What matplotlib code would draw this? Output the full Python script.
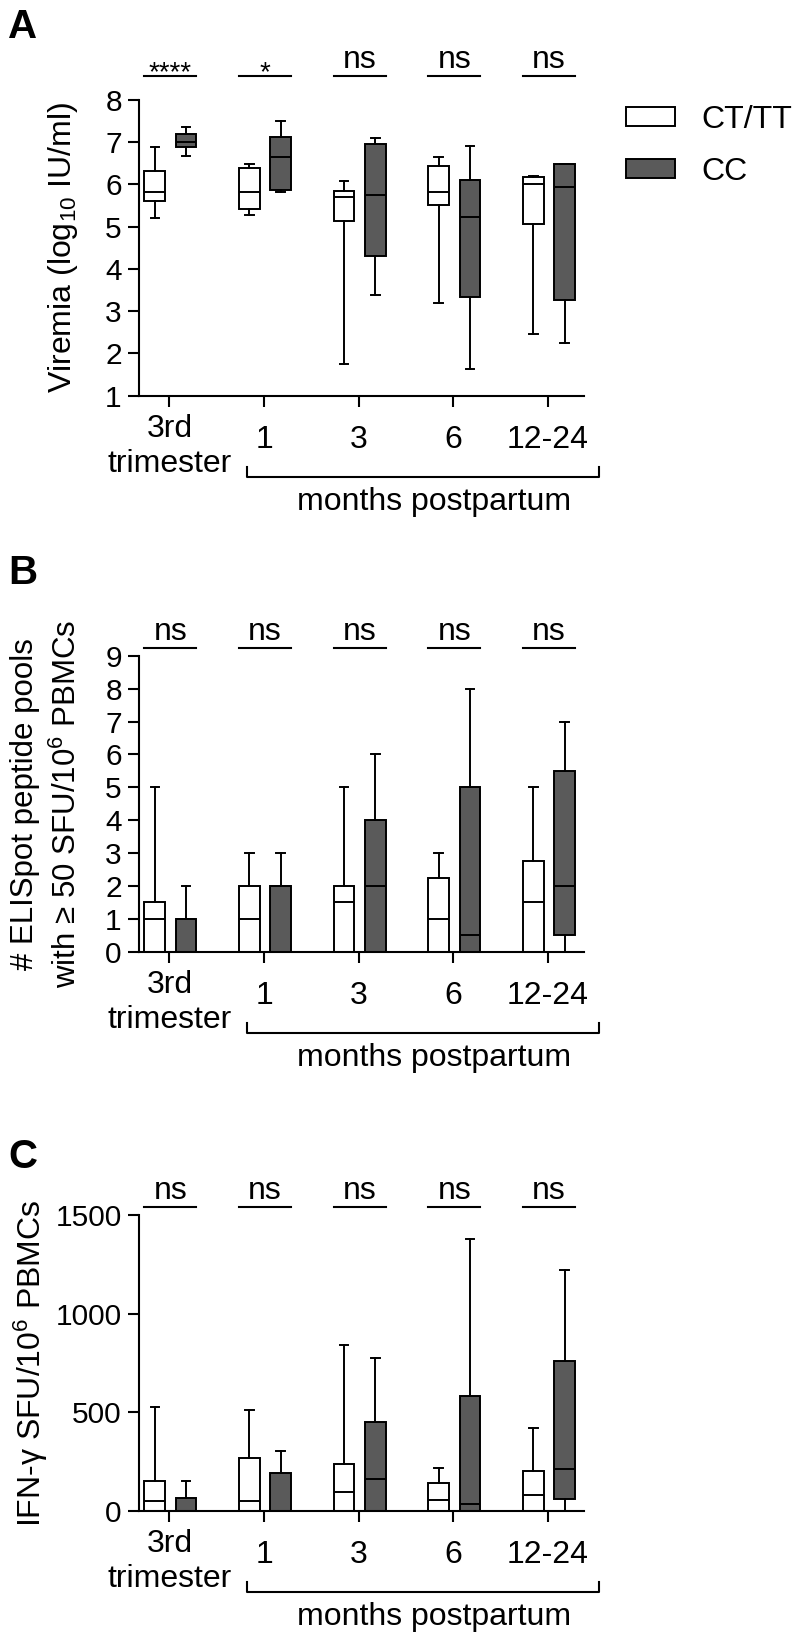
import matplotlib
matplotlib.use("AGG")
import matplotlib.pyplot as plt
import matplotlib.transforms as mtransforms
from matplotlib.patches import Patch

plt.rcParams['font.family'] = ['Liberation Sans', 'DejaVu Sans']
plt.rcParams['mathtext.default'] = 'regular'

# categories and groups
timepoints = ['3rd\ntrimester', '1', '3', '6', '12-24']
genotypes = ['CT/TT', 'CC']
colors = ['white', '#5a5a5a']

# box stats per timepoint: [whisker low, q1, median, q3, whisker high]
viremia_ct = [[5.21, 5.60, 5.83, 6.32, 6.88], [5.27, 5.43, 5.83, 6.38, 6.48],
              [1.76, 5.13, 5.70, 5.84, 6.08], [3.20, 5.52, 5.83, 6.44, 6.64],
              [2.45, 5.07, 6.01, 6.17, 6.21]]
viremia_cc = [[6.68, 6.88, 7.00, 7.19, 7.37], [5.82, 5.87, 6.64, 7.13, 7.51],
              [3.38, 4.31, 5.76, 6.96, 7.10], [1.62, 3.34, 5.24, 6.10, 6.90],
              [2.24, 3.26, 5.93, 6.48, 6.48]]
elispot_ct = [[0, 0, 1, 1.5, 5], [0, 0, 1, 2, 3], [0, 0, 1.5, 2, 5],
              [0, 0, 1, 2.25, 3], [0, 0, 1.5, 2.75, 5]]
elispot_cc = [[0, 0, 1, 1, 2], [0, 0, 2, 2, 3], [0, 0, 2, 4, 6],
              [0, 0, 0.5, 5, 8], [0, 0.5, 2, 5.5, 7]]
ifn_ct = [[0, 0, 51, 152, 525], [0, 0, 51, 269, 510], [0, 0, 97, 240, 841],
          [0, 0, 59, 143, 220], [0, 0, 82, 203, 421]]
ifn_cc = [[0, 0, 0, 68, 155], [0, 0, 0, 194, 307], [0, 0, 161, 452, 777],
          [0, 0, 37, 582, 1377], [0, 60, 212, 759, 1222]]

sig_a = ['****', '*', 'ns', 'ns', 'ns']
sig_b = ['ns', 'ns', 'ns', 'ns', 'ns']
sig_c = ['ns', 'ns', 'ns', 'ns', 'ns']

fig = plt.figure(figsize=(7.96, 16.37), dpi=100)
FS = 23       # labels / text
TFS = 21.5    # tick labels
LW = 1.4


def off(ax, dy):
    # data x, axes y, shifted by dy pixels (up positive)
    return (mtransforms.blended_transform_factory(ax.transData, ax.transAxes)
            + mtransforms.ScaledTranslation(0, dy / 100, fig.dpi_scale_trans))


def panel(rect, ct, cc, ylim, yticks, ylabel, ylab_x, ylab_fs, letter, sig, sig_dy):
    ax = fig.add_axes(rect)
    for stats_list, dx, col in [(ct, -0.155, colors[0]), (cc, 0.175, colors[1])]:
        stats = [dict(whislo=s[0], q1=s[1], med=s[2], q3=s[3], whishi=s[4])
                 for s in stats_list]
        ax.bxp(stats, positions=[i + dx for i in range(len(stats))], widths=0.22,
               patch_artist=True, showfliers=False, capwidths=0.09,
               boxprops=dict(facecolor=col, edgecolor='black', linewidth=LW),
               medianprops=dict(color='black', linewidth=LW),
               whiskerprops=dict(color='black', linewidth=LW),
               capprops=dict(color='black', linewidth=LW))
    ax.set_xlim(-0.327, 4.385)
    ax.set_ylim(*ylim)
    ax.set_yticks(yticks)
    ax.set_xticks(range(len(timepoints)))
    ax.set_xticklabels([''] * len(timepoints))
    for s in ['top', 'right']:
        ax.spines[s].set_visible(False)
    for s in ['left', 'bottom']:
        ax.spines[s].set_linewidth(1.5)
    ax.tick_params(length=8, width=1.5, labelsize=TFS, pad=4)
    ax.text(ylab_x, 0.5, ylabel, transform=ax.transAxes, rotation=90,
            ha='center', va='center', fontsize=ylab_fs, linespacing=1.45,
            rotation_mode='anchor')

    # x category labels
    ax.text(0, 0, '3rd', transform=off(ax, -33), ha='center', va='center', fontsize=FS)
    ax.text(0, 0, 'trimester', transform=off(ax, -68), ha='center', va='center', fontsize=FS)
    for i, t in enumerate(timepoints[1:], start=1):
        ax.text(i, 0, t, transform=off(ax, -44), ha='center', va='center', fontsize=FS)
    ax.plot([0.82, 0.82, 4.54, 4.54], [0.034, 0, 0, 0.034], transform=off(ax, -81),
            color='black', lw=1.5, clip_on=False)
    ax.text(2.8, 0, 'months postpartum', transform=off(ax, -106), ha='center',
            va='center', fontsize=FS)

    # significance
    for i, s in enumerate(sig):
        x0, x1 = i - 0.155 - 0.11, i + 0.175 + 0.11
        ax.plot([x0, x1], [1, 1], transform=off(ax, sig_dy), color='black',
                lw=1.5, clip_on=False)
        if s == 'ns':
            ax.text(i + 0.01, 1, s, transform=off(ax, sig_dy + 8), ha='center',
                    va='baseline', fontsize=FS)
        else:
            ax.text(i + 0.01, 1, s, transform=off(ax, sig_dy - 4), ha='center',
                    va='baseline', fontsize=20)

    fig.text(23 / 796, 1 - letter[1] / 1637, letter[0], fontsize=29,
             fontweight='bold', ha='center', va='center')
    return ax


ax_a = panel([0.174, 0.7583, 0.5602, 0.1806], viremia_ct, viremia_cc, (1, 8),
             range(1, 9), 'Viremia (log$_{10}$ IU/ml)', -0.169, FS, ('A', 27),
             sig_a, 24)
ax_b = panel([0.174, 0.4186, 0.5602, 0.1808], elispot_ct, elispot_cc, (0, 9),
             range(0, 10),
             '# ELISpot peptide pools\nwith \u2265 50 SFU/10$^6$ PBMCs',
             -0.2065, 22.5, ('B', 573), sig_b, 7.4)
ax_c = panel([0.174, 0.07685, 0.5602, 0.1811], ifn_ct, ifn_cc, (0, 1500),
             [0, 500, 1000, 1500], 'IFN-\u03b3 SFU/10$^6$ PBMCs', -0.241, FS,
             ('C', 1157), sig_c, 7.3)

handles = [Patch(facecolor=c, edgecolor='black', linewidth=LW) for c in colors]
ax_a.legend(handles, genotypes, loc='upper left', bbox_to_anchor=(626 / 796, 1 - 105 / 1637),
            bbox_transform=fig.transFigure, frameon=False, fontsize=FS,
            handlelength=1.53, handleheight=0.53, handletextpad=0.83,
            labelspacing=0.69, borderpad=0, borderaxespad=0)

plt.savefig('out.png', dpi=100)
